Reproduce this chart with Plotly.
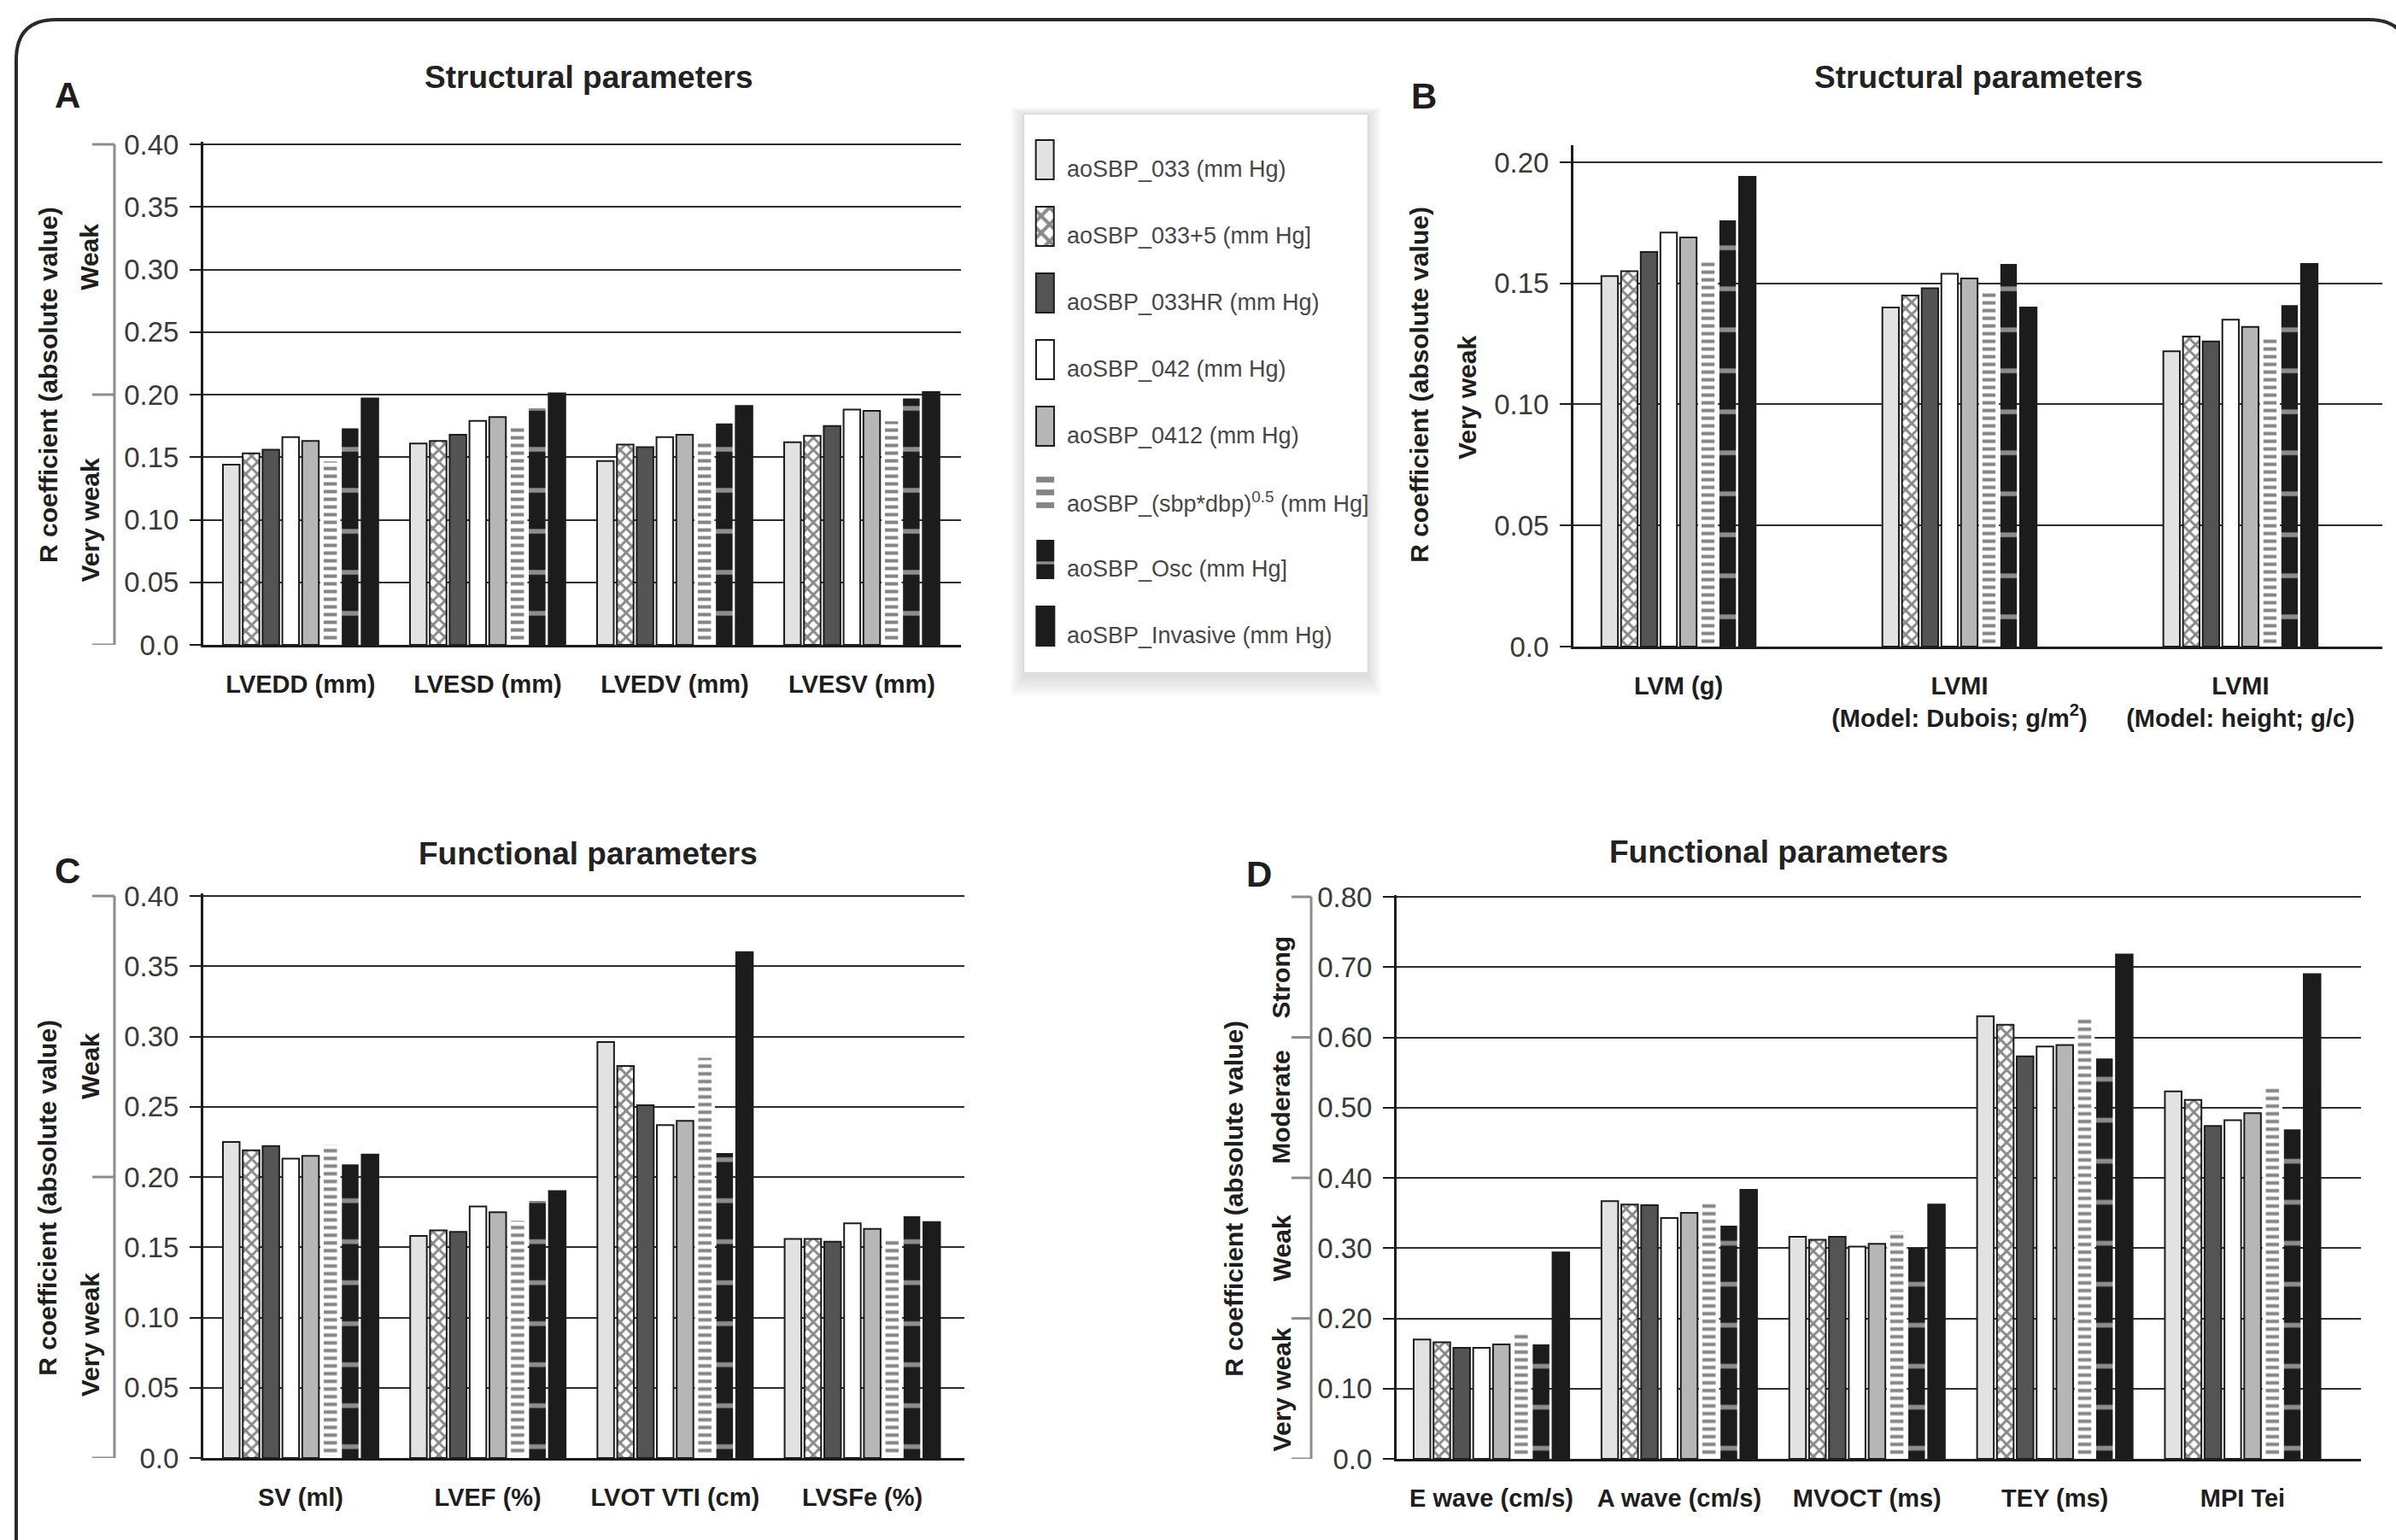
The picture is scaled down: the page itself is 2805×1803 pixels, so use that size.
import plotly.graph_objects as go

W, H = 2805, 1803

# ---------------------------------------------------------------- data
series_names = [
    "aoSBP_033 (mm Hg)",
    "aoSBP_033+5 (mm Hg]",
    "aoSBP_033HR (mm Hg)",
    "aoSBP_042 (mm Hg)",
    "aoSBP_0412 (mm Hg)",
    "aoSBP_(sbp*dbp)<sup>0.5</sup> (mm Hg]",
    "aoSBP_Osc (mm Hg]",
    "aoSBP_Invasive (mm Hg)",
]

# Panel A - structural parameters (one row per series)
cats_a = ["LVEDD (mm)", "LVESD (mm)", "LVEDV (mm)", "LVESV (mm)"]
r_a = [
    [0.144, 0.161, 0.147, 0.162],
    [0.153, 0.163, 0.160, 0.167],
    [0.156, 0.168, 0.158, 0.175],
    [0.166, 0.179, 0.166, 0.188],
    [0.163, 0.182, 0.168, 0.187],
    [0.148, 0.175, 0.164, 0.180],
    [0.173, 0.189, 0.177, 0.197],
    [0.197, 0.201, 0.191, 0.202],
]

# Panel B - structural parameters (mass)
cats_b = ["LVM (g)", "LVMI<br>(Model: Dubois; g/m<sup>2</sup>)", "LVMI<br>(Model: height; g/c)"]
r_b = [
    [0.153, 0.140, 0.122],
    [0.155, 0.145, 0.128],
    [0.163, 0.148, 0.126],
    [0.171, 0.154, 0.135],
    [0.169, 0.152, 0.132],
    [0.160, 0.148, 0.128],
    [0.176, 0.158, 0.141],
    [0.194, 0.140, 0.158],
]

# Panel C - functional parameters
cats_c = ["SV (ml)", "LVEF (%)", "LVOT VTI (cm)", "LVSFe (%)"]
r_c = [
    [0.225, 0.158, 0.296, 0.156],
    [0.219, 0.162, 0.279, 0.156],
    [0.222, 0.161, 0.251, 0.154],
    [0.213, 0.179, 0.237, 0.167],
    [0.215, 0.175, 0.240, 0.163],
    [0.224, 0.170, 0.286, 0.158],
    [0.209, 0.183, 0.217, 0.172],
    [0.216, 0.190, 0.360, 0.168],
]

# Panel D - functional parameters (Doppler)
cats_d = ["E wave (cm/s)", "A wave (cm/s)", "MVOCT (ms)", "TEY (ms)", "MPI Tei"]
r_d = [
    [0.170, 0.367, 0.316, 0.630, 0.523],
    [0.166, 0.362, 0.312, 0.618, 0.511],
    [0.158, 0.361, 0.316, 0.573, 0.474],
    [0.158, 0.343, 0.302, 0.587, 0.482],
    [0.163, 0.350, 0.306, 0.589, 0.492],
    [0.180, 0.368, 0.327, 0.631, 0.532],
    [0.163, 0.332, 0.300, 0.570, 0.469],
    [0.294, 0.383, 0.362, 0.718, 0.690],
]

ticks_04 = [0.0, 0.05, 0.10, 0.15, 0.20, 0.25, 0.30, 0.35, 0.40]
ticktext_04 = ["0.0", "0.05", "0.10", "0.15", "0.20", "0.25", "0.30", "0.35", "0.40"]
ticks_02 = [0.0, 0.05, 0.10, 0.15, 0.20]
ticktext_02 = ["0.0", "0.05", "0.10", "0.15", "0.20"]
ticks_08 = [0.0, 0.10, 0.20, 0.30, 0.40, 0.50, 0.60, 0.70, 0.80]
ticktext_08 = ["0.0", "0.10", "0.20", "0.30", "0.40", "0.50", "0.60", "0.70", "0.80"]

# ---------------------------------------------------------------- styles
SANS = "Liberation Sans, Arial, Helvetica, sans-serif"
INK = "#1c1c1c"


def bar_marker(k, legend=False):
    edge = dict(color=INK, width=2)
    if k == 0:
        return dict(color="#e2e2e2", line=edge)
    if k == 1:
        return dict(color="white", line=edge,
                    pattern=dict(shape="x", fgcolor="#141414", bgcolor="white",
                                 size=14 if legend else 10, solidity=0.5))
    if k == 2:
        return dict(color="#545454", line=edge)
    if k == 3:
        return dict(color="white", line=edge)
    if k == 4:
        return dict(color="#b6b6b6", line=edge)
    if k == 5:
        return dict(color="white", line=dict(color="white", width=0 if legend else 4),
                    pattern=dict(shape="-", fgcolor="#0a0a0a", bgcolor="white",
                                 size=15 if legend else 9, solidity=0.45))
    if k == 6:
        return dict(color=INK, line=dict(width=0),
                    pattern=dict(shape="-", fgcolor="white", bgcolor=INK,
                                 size=30 if legend else 48, solidity=0.11))
    return dict(color=INK, line=dict(color=INK, width=2))


def px(x):
    return x / W


def py(y):
    return 1 - y / H


panels = [
    dict(n="", cats=cats_a, vals=r_a, xd=(238, 1125), y0=755, upx=1465.0, ymax=0.402,
         xr=(-0.52, 3.53), G=0.847, tv=ticks_04, tt=ticktext_04),
    dict(n="2", cats=cats_b, vals=r_b, xd=(1842, 2789), y0=757, upx=2835.0, ymax=0.207,
         xr=(-0.374, 2.505), G=0.56, tv=ticks_02, tt=ticktext_02),
    dict(n="3", cats=cats_c, vals=r_c, xd=(238, 1129), y0=1707, upx=1645.0, ymax=0.402,
         xr=(-0.52, 3.545), G=0.847, tv=ticks_04, tt=ticktext_04),
    dict(n="4", cats=cats_d, vals=r_d, xd=(1635, 2764), y0=1708, upx=822.5, ymax=0.803,
         xr=(-0.505, 4.63), G=0.845, tv=ticks_08, tt=ticktext_08),
]

fig = go.Figure()
layout = dict(
    width=W, height=H, margin=dict(l=0, r=0, t=0, b=0, autoexpand=False),
    paper_bgcolor="white", plot_bgcolor="rgba(0,0,0,0)",
    showlegend=False, barmode="group",
)

nser = len(series_names)
for p in panels:
    G = p["G"]
    slot = G / nser
    bw = slot * 0.84
    for k in range(nser):
        fig.add_trace(go.Bar(
            x=p["cats"], y=p["vals"][k], name=series_names[k],
            xaxis="x" + p["n"], yaxis="y" + p["n"],
            offset=-G / 2 + k * slot + (slot - bw) / 2, width=bw,
            marker=bar_marker(k), hoverinfo="name+y",
        ))
    top_px = p["y0"] - p["ymax"] * p["upx"]
    layout["xaxis" + p["n"]] = dict(
        domain=[px(p["xd"][0]), px(p["xd"][1])], anchor="y" + p["n"],
        type="category", range=list(p["xr"]), showgrid=False, zeroline=False,
        showline=True, linecolor=INK, linewidth=3, ticks="", tickangle=0,
        tickfont=dict(family=SANS, size=29, color="#1e1e1e", weight="bold"),
        ticklabelstandoff=18, automargin=False, fixedrange=True,
    )
    layout["yaxis" + p["n"]] = dict(
        domain=[py(p["y0"]), py(top_px)], anchor="x" + p["n"],
        range=[0, p["ymax"]], tickvals=p["tv"], ticktext=p["tt"],
        showgrid=True, gridcolor="#2e2e2e", gridwidth=2, zeroline=False,
        showline=True, linecolor=INK, linewidth=3,
        ticks="outside", ticklen=13, tickwidth=2, tickcolor=INK,
        tickfont=dict(family=SANS, size=33, color="#3a3a3a"),
        ticklabelstandoff=6, automargin=False, fixedrange=True,
    )

# ---------------------------------------------------------------- legend panel
leg_left, leg_top, leg_right, leg_bot = 1199, 134, 1601, 787
row_top0, row_pitch, sw_h, sw_w, sw_x = 30, 78, 46, 21, 24.5
for k in range(nser):
    fig.add_trace(go.Bar(
        x=[sw_x], y=[sw_h], base=[row_top0 + k * row_pitch], width=[sw_w],
        xaxis="x5", yaxis="y5", marker=bar_marker(k, legend=True),
        hoverinfo="skip", name=series_names[k],
    ))
layout["xaxis5"] = dict(domain=[px(leg_left), px(leg_right)], anchor="y5",
                        range=[0, leg_right - leg_left], visible=False, fixedrange=True)
layout["yaxis5"] = dict(domain=[py(leg_bot), py(leg_top)], anchor="x5",
                        range=[leg_bot - leg_top, 0], visible=False, fixedrange=True)

shapes = []
annotations = []

# legend box with soft drop shadow
for s in range(1, 9):
    shapes.append(dict(type="rect", xref="paper", yref="paper", layer="below",
                       x0=px(leg_left - 2 * s), x1=px(leg_right + 2 * s),
                       y0=py(leg_bot + 3 * s + 4), y1=py(leg_top - s),
                       fillcolor="rgba(0,0,0,0.017)", line=dict(width=0)))
shapes.append(dict(type="rect", xref="paper", yref="paper", layer="below",
                   x0=px(leg_left), x1=px(leg_right), y0=py(leg_bot), y1=py(leg_top),
                   fillcolor="white", line=dict(color="rgba(0,0,0,0.05)", width=1)))
for k, name in enumerate(series_names):
    annotations.append(dict(
        xref="paper", yref="paper", x=px(1247), y=py(leg_top + row_top0 + k * row_pitch + 34),
        xanchor="left", yanchor="middle", showarrow=False, text=name,
        font=dict(family=SANS, size=27, color="#474747"),
    ))

# outer rounded frame
f = (f"M {px(19)},{py(1900)} L {px(19)},{py(70)} Q {px(19)},{py(23)} {px(66)},{py(23)} "
     f"L {px(2773)},{py(23)} Q {px(2820)},{py(23)} {px(2820)},{py(70)} L {px(2820)},{py(1900)}")
shapes.append(dict(type="path", xref="paper", yref="paper", path=f,
                   line=dict(color="#2a2a2a", width=4)))

# strength brackets on the left of panels A, C and D
BR = "#8c8c8c"


def bracket(yref, xline, xtick, levels):
    shapes.append(dict(type="line", xref="paper", yref=yref, x0=px(xline), x1=px(xline),
                       y0=levels[0], y1=levels[-1], line=dict(color=BR, width=3)))
    for v in levels:
        shapes.append(dict(type="line", xref="paper", yref=yref, x0=px(xtick), x1=px(xline),
                           y0=v, y1=v, line=dict(color=BR, width=3)))


bracket("y", 134, 108, [0.0, 0.20, 0.40])
bracket("y3", 134, 108, [0.0, 0.20, 0.40])
bracket("y4", 1535, 1512, [0.0, 0.20, 0.40, 0.60, 0.80])


def vtext(x, y, yref, text, size=30):
    annotations.append(dict(xref="paper", yref=yref, x=px(x), y=y, text="<b>" + text + "</b>",
                            textangle=-90, showarrow=False, xanchor="center", yanchor="middle",
                            font=dict(family=SANS, size=size, color="#1e1e1e")))


# axis titles and strength bands
vtext(56, 0.2075, "y", "R coefficient (absolute value)")
vtext(105, 0.31, "y", "Weak")
vtext(105, 0.10, "y", "Very weak")
vtext(1662, 0.108, "y2", "R coefficient (absolute value)")
vtext(1718, 0.103, "y2", "Very weak")
vtext(56, 0.185, "y3", "R coefficient (absolute value)")
vtext(105, 0.279, "y3", "Weak")
vtext(105, 0.088, "y3", "Very weak")
vtext(1445, 0.370, "y4", "R coefficient (absolute value)")
vtext(1500, 0.685, "y4", "Strong")
vtext(1500, 0.500, "y4", "Moderate")
vtext(1500, 0.300, "y4", "Weak")
vtext(1500, 0.098, "y4", "Very weak")

# panel letters and titles
for letter, x, y in [("A", 79, 112), ("B", 1667, 113), ("C", 79, 1019), ("D", 1474, 1023)]:
    annotations.append(dict(xref="paper", yref="paper", x=px(x), y=py(y), text="<b>" + letter + "</b>",
                            showarrow=False, xanchor="center", yanchor="middle",
                            font=dict(family=SANS, size=42, color="#1e1e1e")))
for title, x, y in [("Structural parameters", 689, 91), ("Structural parameters", 2316, 91),
                    ("Functional parameters", 688, 1000), ("Functional parameters", 2082, 998)]:
    annotations.append(dict(xref="paper", yref="paper", x=px(x), y=py(y), text="<b>" + title + "</b>",
                            showarrow=False, xanchor="center", yanchor="middle",
                            font=dict(family=SANS, size=37, color="#222222")))

layout["shapes"] = shapes
layout["annotations"] = annotations
fig.update_layout(**layout)
fig.write_html("out.html")
